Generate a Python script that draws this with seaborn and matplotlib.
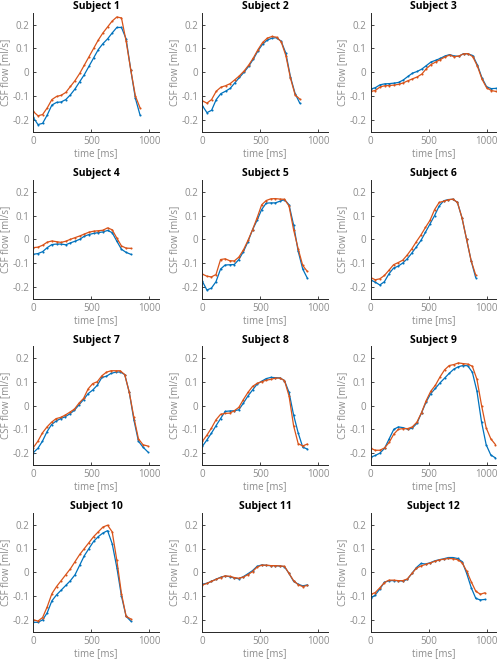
import numpy as np
import pandas as pd
import matplotlib
matplotlib.use("Agg")
import matplotlib.pyplot as plt
import seaborn as sns

subjects = [f"Subject {i}" for i in range(1, 13)]
t_end = [920, 840, 1080, 840, 905, 905, 985, 905, 1075, 840, 905, 985]

blue_1 = [-0.19, -0.22, -0.215, -0.18, -0.138, -0.127, -0.125, -0.115, -0.095, -0.070, -0.040, -0.010,
          0.025, 0.060, 0.095, 0.120, 0.140, 0.165, 0.188, 0.188, 0.140, 0.010, -0.110, -0.180]
orange_1 = [-0.165, -0.183, -0.178, -0.150, -0.115, -0.102, -0.097, -0.085, -0.060, -0.035, -0.005, 0.030,
            0.065, 0.100, 0.135, 0.165, 0.190, 0.215, 0.232, 0.228, 0.130, 0.010, -0.100, -0.150]

blue_2 = [-0.14, -0.17, -0.16, -0.115, -0.09, -0.08, -0.068, -0.045, -0.022, 0.0, 0.025, 0.055,
          0.09, 0.118, 0.135, 0.143, 0.145, 0.13, 0.08, -0.02, -0.09, -0.13]
orange_2 = [-0.12, -0.13, -0.115, -0.08, -0.063, -0.057, -0.048, -0.032, -0.015, 0.005, 0.03, 0.06,
            0.095, 0.125, 0.143, 0.15, 0.147, 0.128, 0.07, -0.025, -0.095, -0.113]

blue_3 = [-0.071, -0.065, -0.053, -0.049, -0.048, -0.046, -0.043, -0.033, -0.018, -0.004, 0.003, 0.013,
          0.028, 0.043, 0.05, 0.058, 0.068, 0.074, 0.068, 0.067, 0.078, 0.077, 0.07, 0.03, -0.025,
          -0.062, -0.069, -0.068]
orange_3 = [-0.081, -0.077, -0.062, -0.057, -0.056, -0.054, -0.051, -0.045, -0.036, -0.028, -0.02, -0.008,
            0.015, 0.032, 0.043, 0.053, 0.064, 0.072, 0.065, 0.068, 0.077, 0.078, 0.065, 0.025, -0.03,
            -0.066, -0.077, -0.081]

blue_4 = [-0.063, -0.06, -0.052, -0.035, -0.022, -0.02, -0.02, -0.023, -0.015, -0.008, 0.0, 0.013,
          0.02, 0.025, 0.028, 0.031, 0.037, 0.028, -0.008, -0.042, -0.055, -0.063]
orange_4 = [-0.035, -0.033, -0.025, -0.012, -0.007, -0.01, -0.013, -0.008, 0.0, 0.007, 0.014, 0.022,
            0.03, 0.034, 0.036, 0.038, 0.048, 0.04, 0.005, -0.028, -0.037, -0.038]

blue_5 = [-0.176, -0.213, -0.205, -0.178, -0.125, -0.108, -0.107, -0.106, -0.085, -0.052, -0.01, 0.04,
          0.08, 0.125, 0.152, 0.153, 0.153, 0.16, 0.167, 0.145, 0.06, -0.05, -0.125, -0.163]
orange_5 = [-0.146, -0.155, -0.158, -0.148, -0.085, -0.082, -0.09, -0.091, -0.075, -0.045, -0.005, 0.04,
            0.09, 0.145, 0.163, 0.17, 0.171, 0.169, 0.168, 0.14, 0.04, -0.04, -0.11, -0.135]

blue_6 = [-0.171, -0.18, -0.192, -0.178, -0.145, -0.121, -0.113, -0.1, -0.082, -0.058, -0.032, -0.005,
          0.03, 0.065, 0.1, 0.14, 0.162, 0.167, 0.168, 0.155, 0.09, 0.0, -0.09, -0.161]
orange_6 = [-0.161, -0.17, -0.166, -0.152, -0.13, -0.107, -0.098, -0.088, -0.066, -0.04, -0.01, 0.018,
            0.05, 0.08, 0.125, 0.155, 0.16, 0.166, 0.169, 0.155, 0.09, 0.0, -0.09, -0.15]

blue_7 = [-0.198, -0.18, -0.15, -0.11, -0.08, -0.065, -0.055, -0.047, -0.035, -0.02, 0.003, 0.025,
          0.05, 0.065, 0.085, 0.118, 0.123, 0.135, 0.14, 0.141, 0.13, 0.055, -0.06, -0.15, -0.175, -0.194]
orange_7 = [-0.177, -0.15, -0.115, -0.09, -0.07, -0.055, -0.05, -0.04, -0.028, -0.015, 0.01, 0.03,
            0.07, 0.092, 0.1, 0.125, 0.14, 0.146, 0.146, 0.146, 0.13, 0.055, -0.05, -0.14, -0.165, -0.17]

blue_8 = [-0.172, -0.145, -0.116, -0.085, -0.055, -0.025, -0.023, -0.022, -0.018, 0.01, 0.04, 0.065,
          0.09, 0.102, 0.113, 0.118, 0.117, 0.116, 0.105, 0.055, -0.04, -0.115, -0.175, -0.183]
orange_8 = [-0.151, -0.125, -0.095, -0.06, -0.037, -0.033, -0.032, -0.022, -0.008, 0.025, 0.055, 0.08,
            0.093, 0.1, 0.106, 0.11, 0.115, 0.115, 0.105, 0.04, -0.085, -0.16, -0.17, -0.162]

blue_9 = [-0.217, -0.21, -0.2, -0.18, -0.14, -0.1, -0.09, -0.093, -0.1, -0.095, -0.075, -0.031,
          0.015, 0.05, 0.072, 0.095, 0.115, 0.135, 0.153, 0.163, 0.168, 0.167, 0.14, 0.06, -0.07,
          -0.165, -0.208, -0.22]
orange_9 = [-0.18, -0.188, -0.188, -0.178, -0.155, -0.12, -0.1, -0.097, -0.097, -0.09, -0.07, -0.03,
            0.02, 0.06, 0.085, 0.12, 0.15, 0.168, 0.172, 0.179, 0.176, 0.174, 0.165, 0.11, 0.0,
            -0.094, -0.14, -0.164]

blue_10 = [-0.21, -0.21, -0.2, -0.17, -0.12, -0.095, -0.075, -0.055, -0.035, -0.01, 0.03, 0.07,
           0.1, 0.13, 0.15, 0.165, 0.175, 0.12, 0.02, -0.1, -0.185, -0.205]
orange_10 = [-0.199, -0.205, -0.19, -0.145, -0.09, -0.06, -0.035, -0.01, 0.015, 0.045, 0.075, 0.1,
             0.125, 0.15, 0.17, 0.19, 0.198, 0.17, 0.05, -0.09, -0.185, -0.196]

blue_11 = [-0.05, -0.046, -0.038, -0.029, -0.021, -0.016, -0.018, -0.024, -0.027, -0.018, -0.006, 0.007,
           0.025, 0.031, 0.029, 0.028, 0.028, 0.026, 0.024, -0.005, -0.038, -0.05, -0.057, -0.053]
orange_11 = [-0.053, -0.047, -0.038, -0.03, -0.022, -0.015, -0.017, -0.022, -0.025, -0.02, -0.01, 0.003,
             0.022, 0.03, 0.03, 0.028, 0.028, 0.027, 0.025, -0.005, -0.035, -0.052, -0.06, -0.055]

blue_12 = [-0.11, -0.095, -0.07, -0.042, -0.035, -0.035, -0.035, -0.037, -0.03, -0.005, 0.02, 0.037,
           0.035, 0.04, 0.048, 0.053, 0.057, 0.062, 0.062, 0.058, 0.045, -0.005, -0.065, -0.11, -0.116, -0.114]
orange_12 = [-0.093, -0.085, -0.065, -0.043, -0.033, -0.033, -0.035, -0.035, -0.028, -0.005, 0.017, 0.027,
             0.033, 0.039, 0.046, 0.052, 0.055, 0.058, 0.057, 0.053, 0.04, 0.005, -0.04, -0.08, -0.092, -0.086]

blue_series = [blue_1, blue_2, blue_3, blue_4, blue_5, blue_6, blue_7, blue_8, blue_9, blue_10, blue_11, blue_12]
orange_series = [orange_1, orange_2, orange_3, orange_4, orange_5, orange_6, orange_7, orange_8,
                 orange_9, orange_10, orange_11, orange_12]

x_ticks = [0, 500, 1000]
y_ticks = [-0.2, -0.1, 0, 0.1, 0.2]
y_tick_labels = ["-0.2", "-0.1", "0", "0.1", "0.2"]

rows = []
for subj, te, b, o in zip(subjects, t_end, blue_series, orange_series):
    for name, vals in (("blue", b), ("orange", o)):
        tt = np.linspace(0, te, len(vals))
        for ti, vi in zip(tt, vals):
            rows.append({"subject": subj, "series": name, "time": ti, "flow": vi})
df = pd.DataFrame(rows)

sns.set_theme(style="ticks")
plt.rcParams["font.family"] = ["Open Sans", "DejaVu Sans"]

palette = {"blue": "#0072BD", "orange": "#D95319"}
W, H = 498, 660
fig = plt.figure(figsize=(W / 100, H / 100), dpi=100)

col_left = [33.3, 202.3, 370.7]
row_top = [12.7, 179.8, 346.0, 512.8]
ax_w, ax_h = 125.3, 119.0
gray = "#8c8c8c"

for i, subj in enumerate(subjects):
    r, c = divmod(i, 3)
    ax = fig.add_axes([col_left[c] / W, 1 - (row_top[r] + ax_h) / H, ax_w / W, ax_h / H])
    sub = df[df["subject"] == subj]
    sns.lineplot(data=sub, x="time", y="flow", hue="series", hue_order=["blue", "orange"],
                 palette=palette, marker=".", markersize=3.0, markeredgewidth=0,
                 linewidth=0.9, legend=False, ax=ax, estimator=None, sort=False)
    ax.set_xlim(0, 1080)
    ax.set_ylim(-0.25, 0.25)
    ax.set_xticks(x_ticks)
    ax.set_yticks(y_ticks)
    ax.set_yticklabels(y_tick_labels)
    ax.tick_params(direction="in", length=2, width=0.6, labelsize=7, colors="#262626",
                   labelcolor=gray, pad=3)
    for s in ("top", "right"):
        ax.spines[s].set_visible(False)
    for s in ("left", "bottom"):
        ax.spines[s].set_linewidth(0.7)
        ax.spines[s].set_color("#262626")
    ax.set_xlabel("time [ms]", fontsize=7, color=gray, labelpad=1)
    ax.set_ylabel("CSF flow [ml/s]", fontsize=7, color=gray, labelpad=1)
    ax.set_title(subj, fontsize=7.5, fontweight="bold", color="black", pad=2.5)
    ax.set_facecolor("white")

fig.savefig("out.png", dpi=100, facecolor="white")
